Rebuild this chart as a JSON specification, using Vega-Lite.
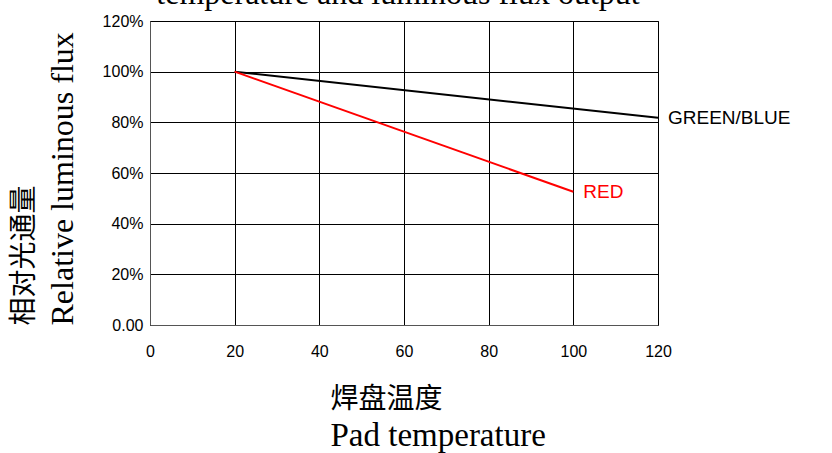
{
  "$schema": "https://vega.github.io/schema/vega-lite/v6.json",
  "width": 508,
  "height": 304,
  "autosize": {"type": "none"},
  "padding": {"left": 150, "top": 21, "right": 174, "bottom": 128},
  "background": "white",
  "title": {
    "text": "temperature and luminous flux output",
    "font": "Liberation Serif",
    "fontSize": 32,
    "fontWeight": "normal",
    "color": "black",
    "anchor": "middle",
    "offset": 0,
    "baseline": "alphabetic",
    "dx": -6,
    "dy": 23
  },
  "config": {
    "view": {"stroke": "#333", "strokeWidth": 1},
    "axis": {
      "labelFont": "Liberation Sans",
      "labelFontSize": 16,
      "labelColor": "black",
      "labelFlush": false,
      "gridColor": "black",
      "gridOpacity": 1,
      "gridWidth": 1,
      "domainColor": "#555",
      "ticks": false,
      "titleColor": "black",
      "titleFontWeight": "normal"
    }
  },
  "datasets": {
    "lines": [
      {"series": "GREEN/BLUE", "temp": 20, "flux": 100},
      {"series": "GREEN/BLUE", "temp": 120, "flux": 81.8},
      {"series": "RED", "temp": 20, "flux": 100},
      {"series": "RED", "temp": 100, "flux": 52.6}
    ],
    "labels": [
      {"series": "GREEN/BLUE", "temp": 120, "flux": 81.8, "label": "GREEN/BLUE"},
      {"series": "RED", "temp": 100, "flux": 52.6, "label": "RED"}
    ]
  },
  "resolve": {"scale": {"x": "independent", "y": "independent"}, "axis": {"x": "independent", "y": "independent"}},
  "layer": [
    {
      "data": {"name": "lines"},
      "mark": {"type": "line", "strokeWidth": 2},
      "encoding": {
        "x": {
          "field": "temp",
          "type": "quantitative",
          "scale": {"domain": [0, 120], "nice": false},
          "axis": {
            "orient": "bottom",
            "grid": true,
            "values": [0, 20, 40, 60, 80, 100, 120],
            "labelPadding": 18,
            "title": "焊盘温度",
            "titleFont": "Noto Sans CJK SC",
            "titleFontSize": 28,
            "titleAlign": "left",
            "titleAnchor": "start",
            "titleX": 180,
            "titleY": 60,
            "titleBaseline": "top"
          }
        },
        "y": {
          "field": "flux",
          "type": "quantitative",
          "scale": {"domain": [0, 120], "nice": false},
          "axis": {
            "orient": "left",
            "grid": true,
            "values": [0, 20, 40, 60, 80, 100, 120],
            "labelExpr": "datum.value == 0 ? '0.00' : datum.value + '%'",
            "labelPadding": 7,
            "title": "相对光通量",
            "titleFont": "Noto Sans CJK SC",
            "titleFontSize": 28,
            "titleAngle": -90,
            "titleAlign": "left",
            "titleBaseline": "middle",
            "titleX": -126,
            "titleY": 304
          }
        },
        "color": {
          "field": "series",
          "type": "nominal",
          "scale": {"domain": ["GREEN/BLUE", "RED"], "range": ["black", "#ff0000"]},
          "legend": null
        }
      }
    },
    {
      "data": {"name": "labels"},
      "mark": {"type": "text", "align": "left", "baseline": "middle", "dx": 10, "font": "Liberation Sans", "fontSize": 19},
      "encoding": {
        "x": {
          "field": "temp",
          "type": "quantitative",
          "scale": {"domain": [0, 120], "nice": false},
          "axis": {
            "orient": "bottom",
            "grid": false,
            "labels": false,
            "domain": false,
            "ticks": false,
            "title": "Pad temperature",
            "titleFont": "Liberation Serif",
            "titleFontSize": 33,
            "titleAlign": "left",
            "titleAnchor": "start",
            "titleX": 180,
            "titleY": 120,
            "titleBaseline": "alphabetic"
          }
        },
        "y": {
          "field": "flux",
          "type": "quantitative",
          "scale": {"domain": [0, 120], "nice": false},
          "axis": {
            "orient": "left",
            "grid": false,
            "labels": false,
            "domain": false,
            "ticks": false,
            "title": "Relative luminous flux",
            "titleFont": "Liberation Serif",
            "titleFontSize": 32,
            "titleAngle": -90,
            "titleAlign": "left",
            "titleBaseline": "alphabetic",
            "titleX": -78,
            "titleY": 304
          }
        },
        "text": {"field": "label"},
        "color": {
          "field": "series",
          "type": "nominal",
          "scale": {"domain": ["GREEN/BLUE", "RED"], "range": ["black", "#ff0000"]},
          "legend": null
        }
      }
    }
  ]
}
